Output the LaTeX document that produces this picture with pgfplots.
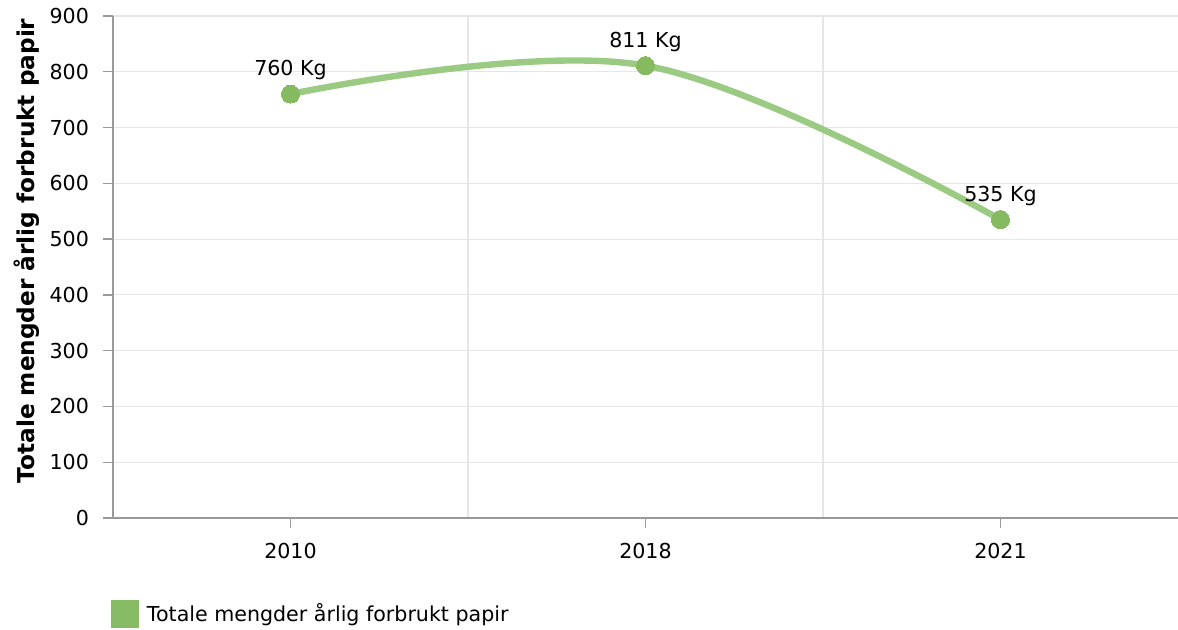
\documentclass[border=0pt]{standalone}
\usepackage{fontspec}
\setmainfont{DejaVu Sans}
\usepackage{pgfplots}
\pgfplotsset{compat=1.18}
\definecolor{gline}{HTML}{9BCA82}
\definecolor{gmark}{HTML}{85BA61}
\definecolor{gleg}{HTML}{88BB66}
\definecolor{gridc}{HTML}{E6E6E6}
\definecolor{axc}{HTML}{999999}
\begin{document}
\begin{tikzpicture}
\useasboundingbox (-56.5pt,-56pt) rectangle (532.5pt,259pt);
\begin{axis}[
 at={(0,0)}, anchor=south west,
 scale only axis, width=532.5pt, height=251pt,
 xmin=-0.5, xmax=2.5, ymin=0, ymax=900,
 xtick={0,1,2}, xticklabels={2010,2018,2021},
 ytick={0,100,...,900},
 minor xtick={0.5,1.5},
 ymajorgrids, xminorgrids,
 grid style={gridc, line width=0.6pt},
 axis x line*=bottom, axis y line*=left,
 axis line style={axc, line width=0.7pt, -},
 tick style={axc, line width=0.7pt},
 major tick length=5pt, minor tick length=0pt,
 tick align=outside,
 /pgf/number format/assume math mode=true,
 tick label style={font=\fontsize{10.3}{12}\selectfont, black},
 xticklabel style={yshift=-4pt},
 yticklabel style={xshift=-3.5pt},
 ylabel={\bfseries Totale mengder årlig forbrukt papir},
 ylabel style={at={(axis description cs:-0.0808,0.532)}, anchor=center, font=\fontsize{11.6}{13}\selectfont},
 legend style={at={(axis description cs:-0.0019,-0.164)}, anchor=north west, draw=none, fill=none, inner sep=0pt, outer sep=0pt, font=\fontsize{10.3}{12}\selectfont, nodes={inner sep=1pt}},
 legend cell align=left,
 legend image code/.code={\path[draw=none] (0pt,0pt) -- (17pt,0pt); \fill[gleg, draw=none] (0pt,-7pt) rectangle (14pt,7pt);},
 nodes near coords={\pgfmathprintnumber{\pgfplotspointmeta}~Kg},
 every node near coord/.append style={font=\fontsize{10.3}{12}\selectfont, black, anchor=center, yshift=12pt, inner sep=0pt},
 clip=false,
]
\addplot[gline, line width=3.2pt, smooth, tension=0.6, mark=*, mark size=4.5pt, mark options={draw=gmark, fill=gmark, solid, line width=0pt}] coordinates {(0,760)(1,811)(2,535)};
\addlegendentry{Totale mengder årlig forbrukt papir}
\end{axis}
\end{tikzpicture}
\end{document}
